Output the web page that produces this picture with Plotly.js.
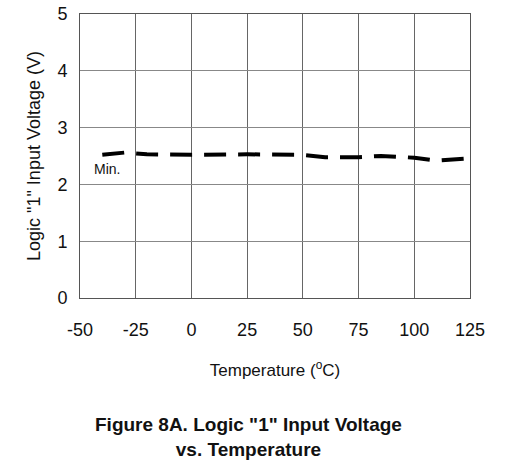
<!DOCTYPE html>
<html>
<head>
<meta charset="utf-8">
<script src="https://cdn.plot.ly/plotly-3.0.1.min.js"></script>
<style>
html,body{margin:0;padding:0;background:#fff;}
#chart{width:514px;height:476px;}
</style>
</head>
<body>
<div id="chart"></div>
<script>
const temperature = [-40, -30, -20, -10, 0, 25, 50, 60, 75, 85, 100, 110, 125];
const minVoltage = [2.52, 2.56, 2.53, 2.52, 2.52, 2.53, 2.52, 2.48, 2.48, 2.50, 2.47, 2.42, 2.46];
const xTicks = [-50, -25, 0, 25, 50, 75, 100, 125];
const yTicks = [0, 1, 2, 3, 4, 5];
const seriesLabel = 'Min.';
const xTitle = 'Temperature (<sup>o</sup>C)';
const yTitle = 'Logic "1" Input Voltage (V)';
const caption = '<b>Figure 8A. Logic "1" Input Voltage<br>vs. Temperature</b>';

const font = 'Liberation Sans, Arial, sans-serif';

const trace = {
  x: temperature,
  y: minVoltage,
  mode: 'lines',
  line: {color: '#000', width: 4, dash: '22px,12px'},
  hoverinfo: 'x+y',
  showlegend: false
};

const W = 514, H = 476, mt = 14, mb = 178, ml = 80, mr = 44;
const plotH = H - mt - mb, plotW = W - ml - mr;
const px2paperY = py => (H - mb - py) / plotH;
const px2paperX = px => (px - ml) / plotW;

const layout = {
  width: W, height: H,
  margin: {l: ml, r: mr, t: mt, b: mb},
  paper_bgcolor: '#fff', plot_bgcolor: '#fff',
  font: {family: font, color: '#111', size: 18},
  showlegend: false,
  xaxis: {
    range: [-50, 125], tickvals: xTicks, ticktext: xTicks.map(String),
    showgrid: true, gridcolor: '#666', gridwidth: 1,
    zeroline: false, showline: true, linecolor: '#555', linewidth: 1, mirror: true,
    ticks: '', ticklabelstandoff: 15,
    tickfont: {size: 18, family: font},
    title: {text: xTitle, font: {size: 17, family: font}, standoff: 25}
  },
  yaxis: {
    range: [0, 5], tickvals: yTicks, ticktext: yTicks.map(String),
    showgrid: true, gridcolor: '#888', gridwidth: 1,
    zeroline: false, showline: true, linecolor: '#555', linewidth: 1, mirror: true,
    ticks: '', ticklabelstandoff: 8,
    tickfont: {size: 18, family: font},
    title: {text: yTitle, font: {size: 18, family: font}, standoff: 12}
  },
  annotations: [
    {x: -44.6, y: 2.27, xref: 'x', yref: 'y', text: seriesLabel, showarrow: false,
     xanchor: 'left', yanchor: 'middle', font: {size: 14, family: font, color: '#111'}},
    {x: px2paperX(248), y: px2paperY(437), xref: 'paper', yref: 'paper', text: caption,
     showarrow: false, xanchor: 'center', yanchor: 'middle',
     font: {size: 19, family: font, color: '#111'}}
  ]
};

Plotly.newPlot('chart', [trace], layout, {displayModeBar: false, staticPlot: true});
</script>
</body>
</html>
